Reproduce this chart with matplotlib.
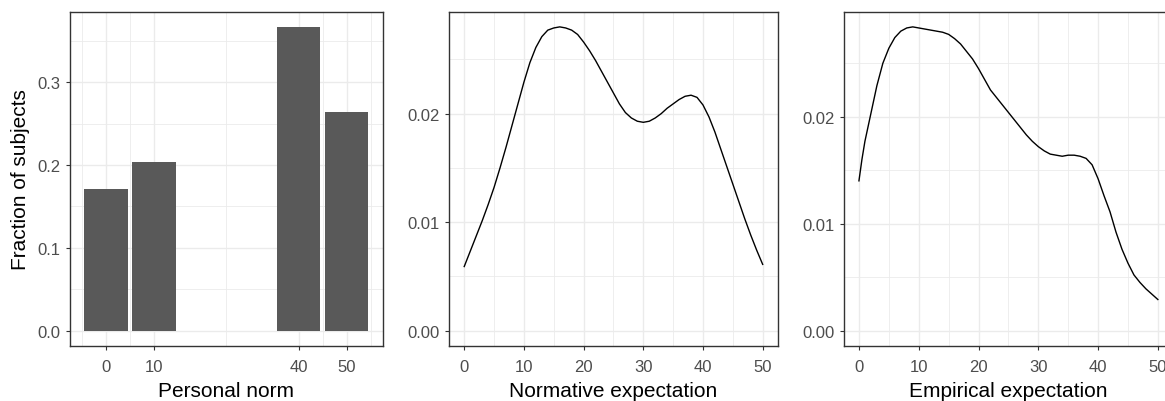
import matplotlib
matplotlib.use("Agg")
import matplotlib.pyplot as plt

plt.rcParams["font.family"] = ["Liberation Sans", "DejaVu Sans"]

# Share of subjects by personal norm
norm_levels = [0, 10, 40, 50]
norm_share = [0.171, 0.204, 0.367, 0.264]

# Density of normative expectations
normative_x = list(range(0, 51))
normative_y = [0.0059, 0.0073, 0.0087, 0.0101, 0.0116, 0.0132, 0.0150, 0.0169,
               0.0189, 0.0209, 0.0229, 0.0247, 0.0261, 0.0271, 0.0277, 0.0279,
               0.0280, 0.0279, 0.0277, 0.0273, 0.0266, 0.0258, 0.0249, 0.0239,
               0.0229, 0.0219, 0.0209, 0.0201, 0.0196, 0.0193, 0.0192, 0.0193,
               0.0196, 0.0200, 0.0205, 0.0209, 0.0213, 0.0216, 0.0217, 0.0215,
               0.0208, 0.0197, 0.0183, 0.0167, 0.0151, 0.0135, 0.0119, 0.0103,
               0.0088, 0.0074, 0.0061]

# Density of empirical expectations
empirical_x = [0, 0.5] + list(range(1, 51))
empirical_y = [0.0140, 0.0160, 0.0177, 0.0203, 0.0229, 0.0250, 0.0264, 0.0274,
               0.0280, 0.0283, 0.0284, 0.0283, 0.0282, 0.0281, 0.0280, 0.0279,
               0.0277, 0.0273, 0.0268, 0.0261, 0.0254, 0.0245, 0.0235, 0.0225,
               0.0218, 0.0211, 0.0204, 0.0197, 0.0190, 0.0183, 0.0177, 0.0172,
               0.0168, 0.0165, 0.0164, 0.0163, 0.0164, 0.0164, 0.0163, 0.0161,
               0.0155, 0.0142, 0.0126, 0.0111, 0.0092, 0.0076, 0.0063, 0.0052,
               0.0045, 0.0039, 0.0034, 0.0029]

W, H = 1165, 402
fig = plt.figure(figsize=(W / 100, H / 100), dpi=100)
fig.patch.set_facecolor("white")


def px_axes(left, right, top, bottom):
    return fig.add_axes([left / W, (H - bottom) / H, (right - left) / W, (bottom - top) / H])


GRID = "#EBEBEB"
BORDER = "#333333"


def style(ax, xmajor, xminor, ymajor, yminor, ylabels):
    ax.set_facecolor("white")
    for s in ax.spines.values():
        s.set_color(BORDER)
        s.set_linewidth(1.0)
        s.set_zorder(5)
    ax.set_xticks(xmajor)
    ax.set_xticks(xminor, minor=True)
    ax.set_yticks(ymajor)
    ax.set_yticks(yminor, minor=True)
    ax.set_yticklabels(ylabels)
    ax.grid(which="major", color=GRID, linewidth=1.0)
    ax.grid(which="minor", color=GRID, linewidth=0.6)
    ax.set_axisbelow(True)
    ax.tick_params(which="major", length=3.0, width=0.8, color=BORDER,
                   labelsize=12, labelcolor="#4D4D4D")
    ax.tick_params(axis="x", which="major", pad=6.5)
    ax.tick_params(axis="y", which="major", pad=4)
    ax.tick_params(which="minor", length=0)


# Panel 1: bars
ax1 = px_axes(70, 382.7, 12.7, 346.7)
ax1.bar(norm_levels, norm_share, width=9, color="#595959", edgecolor="none", zorder=3)
ymax1 = max(norm_share)
ax1.set_xlim(-4.5 - 0.05 * 59, 54.5 + 0.05 * 59)
ax1.set_ylim(-0.05 * ymax1, 1.05 * ymax1)
style(ax1, norm_levels, [-5, 5, 25, 45, 55],
      [0.0, 0.1, 0.2, 0.3], [0.05, 0.15, 0.25, 0.35],
      ["0.0", "0.1", "0.2", "0.3"])
ax1.set_xticklabels([str(v) for v in norm_levels])
ax1.set_xlabel("Personal norm", fontsize=15, labelpad=5)
ax1.set_ylabel("Fraction of subjects", fontsize=15, labelpad=5)

# Panels 2 and 3: density curves
dens_xmajor = [0, 10, 20, 30, 40, 50]
dens_xminor = [5, 15, 25, 35, 45]
dens_ymajor = [0.0, 0.01, 0.02]
dens_yminor = [0.005, 0.015, 0.025]
dens_ylabels = ["0.00", "0.01", "0.02"]

panels = [
    (449.3, 777.6, normative_x, normative_y, "Normative expectation"),
    (844.0, 1172.8, empirical_x, empirical_y, "Empirical expectation"),
]
for left, right, xs, ys, title in panels:
    ax = px_axes(left, right, 12.7, 346.7)
    ax.plot(xs, ys, color="black", linewidth=1.0, zorder=3)
    m = max(ys)
    ax.set_xlim(-2.5, 52.5)
    ax.set_ylim(-0.05 * m, 1.05 * m)
    style(ax, dens_xmajor, dens_xminor, dens_ymajor, dens_yminor, dens_ylabels)
    ax.set_xticklabels([str(v) for v in dens_xmajor])
    ax.set_xlabel(title, fontsize=15, labelpad=5)

fig.savefig("out.png", dpi=100, facecolor="white")
